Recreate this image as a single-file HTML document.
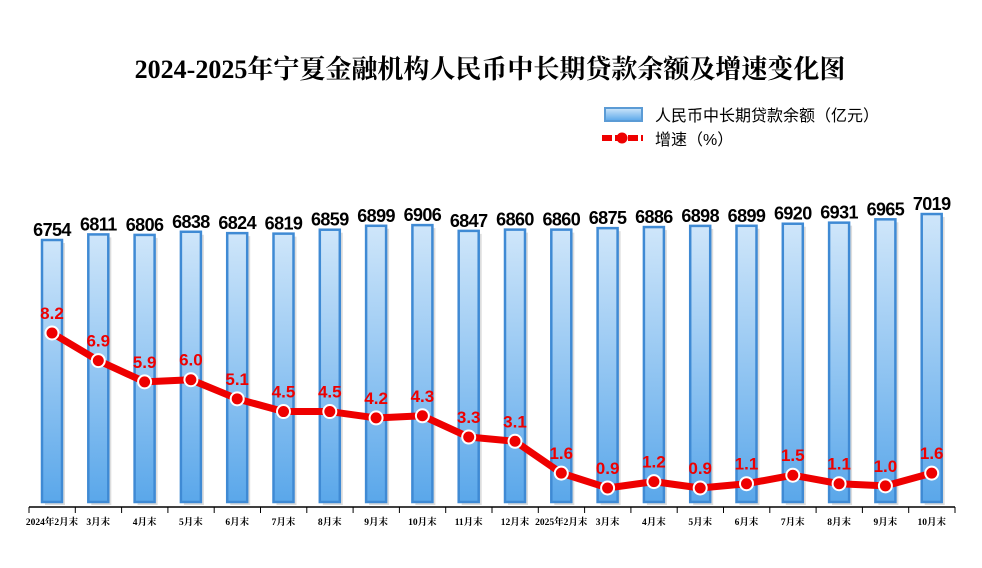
<!DOCTYPE html>
<html><head><meta charset="utf-8"><style>body{margin:0;background:#fff}svg{display:block}</style></head><body>
<svg width="982" height="568" xmlns="http://www.w3.org/2000/svg">
<defs>
<linearGradient id="g" x1="0" y1="0" x2="0" y2="1"><stop offset="0" stop-color="#cfe6fa"/><stop offset="1" stop-color="#5aa7ea"/></linearGradient>
</defs>
<text x="490" y="78" text-anchor="middle" font-family="Liberation Serif,'Noto Serif CJK SC',serif" font-size="26" font-weight="bold">2024-2025年宁夏金融机构人民币中长期贷款余额及增速变化图</text>
<rect x="605" y="108" width="37" height="13" fill="url(#g)" stroke="#5b9bd5" stroke-width="2"/>
<text x="655" y="121" font-family="Liberation Sans,'Noto Sans CJK SC',sans-serif" font-size="16">人民币中长期贷款余额（亿元）</text>
<line x1="602" y1="138" x2="643" y2="138" stroke="#e00" stroke-width="6" stroke-dasharray="10,3"/>
<circle cx="622" cy="138" r="5.5" fill="#e00"/>
<text x="655" y="145" font-family="Liberation Sans,'Noto Sans CJK SC',sans-serif" font-size="16">增速（%）</text>
<g id="c"></g>
</svg>
<script>
const L=["2024年2月末","3月末","4月末","5月末","6月末","7月末","8月末","9月末","10月末","11月末","12月末","2025年2月末","3月末","4月末","5月末","6月末","7月末","8月末","9月末","10月末"];
const B=[6754,6811,6806,6838,6824,6819,6859,6899,6906,6847,6860,6860,6875,6886,6898,6899,6920,6931,6965,7019];
const G=[8.2,6.9,5.9,6.0,5.1,4.5,4.5,4.2,4.3,3.3,3.1,1.6,0.9,1.2,0.9,1.1,1.5,1.1,1.0,1.6];
let s="";const cx=i=>52+i*46.3;const by=v=>240-(v-6754)*0.098;const gy=v=>333-(v-8.2)*21.23;
s+='<line x1="29" y1="507" x2="955" y2="507" stroke="#000" stroke-width="1.5"/>';
for(let i=0;i<=20;i++){const x=29+i*46.3;s+=`<line x1="${x}" y1="507" x2="${x}" y2="513" stroke="#000"/>`;}
B.forEach((v,i)=>{const x=cx(i),y=by(v);s+=`<rect x="${x-10+3}" y="${y+3}" width="20" height="${502-y}" fill="#ddd"/><rect x="${x-10}" y="${y}" width="20" height="${502-y}" fill="url(#g)" stroke="#3f8ad4" stroke-width="2.5"/>`;
s+=`<text x="${x}" y="${y-4}" text-anchor="middle" font-family="Liberation Sans,sans-serif" font-weight="bold" font-size="18" letter-spacing="-0.6">${v}</text>`;
s+=`<text x="${x}" y="525" text-anchor="middle" font-family="Liberation Serif,'Noto Serif CJK SC',serif" font-weight="bold" font-size="9.5">${L[i]}</text>`;});
s+=`<polyline points="${G.map((v,i)=>cx(i)+','+gy(v)).join(' ')}" fill="none" stroke="#e00" stroke-width="7" stroke-linejoin="round"/>`;
G.forEach((v,i)=>{const x=cx(i),y=gy(v);s+=`<circle cx="${x}" cy="${y}" r="6.5" fill="#e00" stroke="#fff" stroke-width="2"/><text x="${x}" y="${y-14}" text-anchor="middle" font-family="Liberation Sans,sans-serif" font-weight="bold" font-size="17" fill="#e00">${v.toFixed(1)}</text>`;});
document.getElementById("c").innerHTML=s;
</script>
</body></html>
